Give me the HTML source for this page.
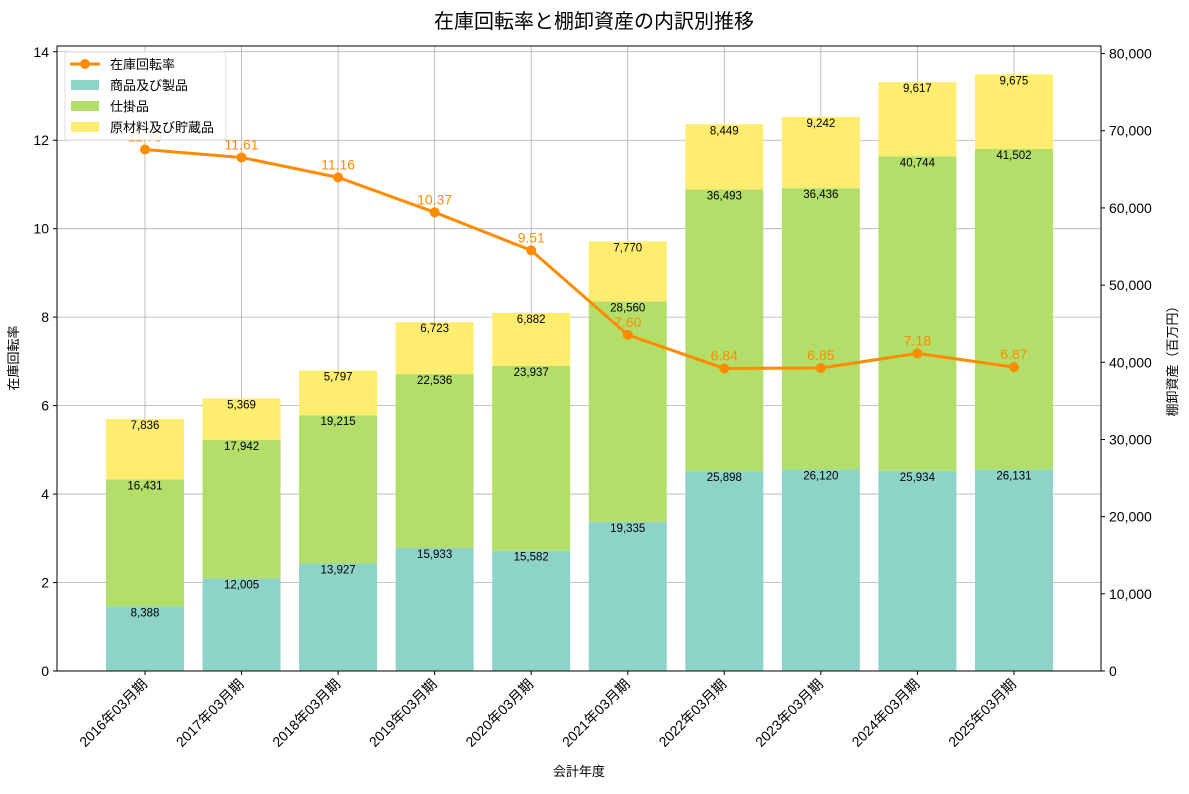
<!DOCTYPE html>
<html><head><meta charset="utf-8"><style>
body{margin:0;background:#fff}
svg text{font-family:"Liberation Sans","Noto Sans CJK JP",sans-serif}
</style></head><body>
<svg id="c" width="1189" height="789" xmlns="http://www.w3.org/2000/svg">
<text x="594" y="28" text-anchor="middle" font-size="20">在庫回転率と棚卸資産の内訳別推移</text>
<g id="grid"></g><g id="bars"></g><g id="line"></g><g id="axes"></g>
</svg>
<script>
const categories=["2016年03月期","2017年03月期","2018年03月期","2019年03月期","2020年03月期","2021年03月期","2022年03月期","2023年03月期","2024年03月期","2025年03月期"];
const products=[8388,12005,13927,15933,15582,19335,25898,26120,25934,26131];
const wip=[16431,17942,19215,22536,23937,28560,36493,36436,40744,41502];
const materials=[7836,5369,5797,6723,6882,7770,8449,9242,9617,9675];
const turnover=[11.79,11.61,11.16,10.37,9.51,7.60,6.84,6.85,7.18,6.87];
const leftTicks=[0,2,4,6,8,10,12,14];
const rightTicks=[0,10000,20000,30000,40000,50000,60000,70000,80000];
const L=57,R=1101,T=46,B=671;
const yL=v=>B-v*(B-T)/14.13;
const yR=v=>B-v*(B-T)/80980;
const xC=i=>145+i*96.55;
const bw=78;
const NS="http://www.w3.org/2000/svg";
function mk(tag,attrs,parent,txt){const e=document.createElementNS(NS,tag);for(const k in attrs)e.setAttribute(k,attrs[k]);if(txt!==undefined)e.textContent=txt;parent.appendChild(e);return e;}
const g=document.getElementById('grid'),gb=document.getElementById('bars'),gl=document.getElementById('line'),ga=document.getElementById('axes');
leftTicks.forEach(t=>{const y=yL(t);
 const ln=mk('line',{x1:L,x2:R,y1:y,y2:y,stroke:'#b0b0b0','stroke-width':0.8},g);
 
 mk('line',{x1:L-4,x2:L,y1:y,y2:y,stroke:'#000'},ga);
 const tx=mk('text',{x:L-8,y:y+5,'text-anchor':'end','font-size':14},ga,String(t));
 });
rightTicks.forEach(t=>{const y=yR(t);
 mk('line',{x1:R,x2:R+4,y1:y,y2:y,stroke:'#000'},ga);
 const tx=mk('text',{x:R+8,y:y+5,'font-size':14},ga,t.toLocaleString('en-US'));
 });
categories.forEach((c,i)=>{const x=xC(i);
 const ln=mk('line',{x1:x,x2:x,y1:T,y2:B,stroke:'#b0b0b0','stroke-width':0.8},g);
 
 mk('line',{x1:x,x2:x,y1:B,y2:B+4,stroke:'#000'},ga);
 const tx=mk('text',{x:x+3,y:B+14,'text-anchor':'end','font-size':14,transform:`rotate(-45 ${x+3} ${B+14})`},ga,c);
 
 let base=0;
 [[products,'#8dd3c7','bar-products'],[wip,'#b3de69','bar-wip'],[materials,'#ffed6f','bar-materials']].forEach(([arr,col,nm])=>{
  const v=arr[i],y0=yR(base),y1=yR(base+v);
  const r=mk('rect',{x:x-bw/2,y:y1,width:bw,height:y0-y1,fill:col},gb);
  
  const lb=mk('text',{x:x,y:y1+10,'text-anchor':'middle','font-size':11.5},gb,v.toLocaleString('en-US'));
  
  base+=v;});
});
const pts=turnover.map((v,i)=>xC(i)+','+yL(v)).join(' ');
const pl=mk('polyline',{points:pts,fill:'none',stroke:'#ff8c00','stroke-width':3},gl);

turnover.forEach((v,i)=>{
 const c=mk('circle',{cx:xC(i),cy:yL(v),r:5,fill:'#ff8c00'},gl);
 
 const t=mk('text',{x:xC(i),y:yL(v)-8,'text-anchor':'middle','font-size':14,fill:'#ff8c00'},gl,v.toFixed(2));
 });
const fr=mk('rect',{x:L,y:T,width:R-L,height:B-T,fill:'none',stroke:'#000','stroke-width':1},ga);

let t1=mk('text',{x:18,y:358,'text-anchor':'middle','font-size':13,transform:'rotate(-90 18 358)'},ga,'在庫回転率');

let t2=mk('text',{x:1177,y:358,'text-anchor':'middle','font-size':13,transform:'rotate(-90 1177 358)'},ga,'棚卸資産（百万円）');

let t3=mk('text',{x:579,y:776,'text-anchor':'middle','font-size':13},ga,'会計年度');

const lg=mk('g',{},ga);
mk('rect',{x:65,y:52,width:161,height:88,fill:'#fff','fill-opacity':0.85,stroke:'#ddd',rx:3},lg);
mk('line',{x1:70,x2:100,y1:64,y2:64,stroke:'#ff8c00','stroke-width':3},lg);
mk('circle',{cx:85,cy:64,r:5,fill:'#ff8c00'},lg);
[['在庫回転率',null],['商品及び製品','#8dd3c7'],['仕掛品','#b3de69'],['原材料及び貯蔵品','#ffed6f']].forEach(([n,col],k)=>{
 const y=64+k*21;
 if(col)mk('rect',{x:71,y:y-5,width:28,height:10,fill:col},lg);
 const e=mk('text',{x:110,y:y+5,'font-size':13},lg,n);
 });
</script>
</body></html>
